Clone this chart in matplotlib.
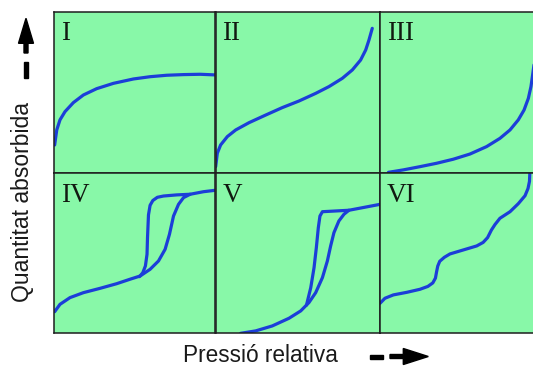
import matplotlib.pyplot as plt
from matplotlib.patches import FancyArrow, Rectangle

# -------------------------
# Curves (x, y as fraction of each panel)
# -------------------------
i_x = [0.004, 0.017, 0.037, 0.068, 0.12, 0.182, 0.264, 0.368, 0.492, 0.595, 0.698, 0.802, 0.905, 1.0]
i_y = [0.175, 0.268, 0.33, 0.381, 0.437, 0.484, 0.523, 0.556, 0.583, 0.597, 0.606, 0.61, 0.612, 0.608]

ii_x = [0.001, 0.011, 0.031, 0.072, 0.123, 0.204, 0.305, 0.406, 0.508, 0.609, 0.69, 0.771, 0.832, 0.882, 0.913, 0.933, 0.953]
ii_y = [0.041, 0.124, 0.175, 0.227, 0.268, 0.313, 0.36, 0.406, 0.447, 0.494, 0.536, 0.587, 0.639, 0.70, 0.762, 0.824, 0.896]

iii_x = [0.051, 0.141, 0.242, 0.343, 0.444, 0.545, 0.646, 0.727, 0.788, 0.838, 0.873, 0.899, 0.915, 0.925, 0.94, 0.955]
iii_y = [0.006, 0.021, 0.041, 0.062, 0.087, 0.119, 0.165, 0.216, 0.268, 0.33, 0.391, 0.463, 0.536, 0.608, 0.72, 0.85]

iv_ads_x = [0.004, 0.037, 0.099, 0.182, 0.285, 0.388, 0.471, 0.533, 0.595, 0.647, 0.688, 0.715, 0.74, 0.771, 0.802, 0.843, 0.926, 1.0]
iv_ads_y = [0.135, 0.181, 0.223, 0.254, 0.281, 0.31, 0.338, 0.358, 0.40, 0.452, 0.525, 0.619, 0.733, 0.806, 0.848, 0.869, 0.885, 0.894]
iv_des_x = [0.843, 0.76, 0.678, 0.64, 0.612, 0.595, 0.585, 0.579, 0.576, 0.566, 0.55, 0.529]
iv_des_y = [0.869, 0.865, 0.858, 0.85, 0.83, 0.8, 0.74, 0.598, 0.494, 0.421, 0.379, 0.354]

v_ads_x = [0.153, 0.244, 0.345, 0.447, 0.518, 0.568, 0.609, 0.65, 0.68, 0.70, 0.72, 0.75, 0.781, 0.811, 0.893, 1.0]
v_ads_y = [0.0, 0.015, 0.046, 0.094, 0.14, 0.192, 0.254, 0.348, 0.452, 0.546, 0.629, 0.702, 0.744, 0.769, 0.785, 0.806]
v_des_x = [0.811, 0.65, 0.635, 0.625, 0.613, 0.599, 0.579, 0.553]
v_des_y = [0.769, 0.76, 0.733, 0.66, 0.535, 0.41, 0.285, 0.176]

vi_x = [0.0, 0.03, 0.081, 0.162, 0.242, 0.29, 0.32, 0.336, 0.343, 0.35, 0.362, 0.39, 0.424, 0.505, 0.586, 0.625, 0.652, 0.675, 0.697, 0.727, 0.788, 0.838, 0.879, 0.897, 0.906, 0.908]
vi_y = [0.1875, 0.219, 0.24, 0.256, 0.275, 0.293, 0.315, 0.345, 0.385, 0.42, 0.45, 0.475, 0.496, 0.521, 0.546, 0.568, 0.598, 0.645, 0.68, 0.719, 0.76, 0.81, 0.86, 0.905, 0.95, 1.0]

labels = ["I", "II", "III", "IV", "V", "VI"]
curves = [
    [(i_x, i_y)],
    [(ii_x, ii_y)],
    [(iii_x, iii_y)],
    [(iv_ads_x, iv_ads_y), (iv_des_x, iv_des_y)],
    [(v_ads_x, v_ads_y), (v_des_x, v_des_y)],
    [(vi_x, vi_y)],
]

GREEN = "#88f8a8"
BLUE = "#1c3ed8"
EDGE = "#1e1e1e"

W, H = 533, 367
fig = plt.figure(figsize=(W / 100, H / 100), dpi=100)

# panel boxes in pixels
col_left = [54, 215.5, 380]
col_w = [161.5, 164.5, 165]
row_top = [11.5, 173.3]
row_h = [161.8, 160]

for k in range(6):
    r, c = divmod(k, 3)
    x0 = col_left[c] / W
    y0 = (H - row_top[r] - row_h[r]) / H
    ax = fig.add_axes([x0, y0, col_w[c] / W, row_h[r] / H])
    ax.set_facecolor(GREEN)
    ax.set_xlim(0, 1)
    ax.set_ylim(0, 1)
    ax.set_xticks([])
    ax.set_yticks([])
    for s in ax.spines.values():
        s.set_color(EDGE)
        s.set_linewidth(1.1)
    for xs, ys in curves[k]:
        ax.plot(xs, ys, color=BLUE, lw=2.3, solid_capstyle="round",
                solid_joinstyle="round")
    ax.annotate(labels[k], xy=(0, 1), xycoords="axes fraction",
                xytext=(7, -29), textcoords="offset pixels",
                ha="left", va="baseline", fontsize=19.5,
                family="Liberation Serif", color="#111a11")

# -------------------------
# Axis titles and arrows
# -------------------------
fig.text(23 / W, 1 - 201.5 / H, "Quantitat absorbida", rotation=90,
         ha="center", va="center", fontsize=16.5,
         family="Liberation Sans", color="#1a1a1a")
fig.text(260.5 / W, (H - 362) / H, "Pressió relativa",
         ha="center", va="baseline", fontsize=16.3,
         family="Liberation Sans", color="#1a1a1a")

def px(x, y):
    return x / 100, (H - y) / 100

tr = fig.dpi_scale_trans

# up arrow with a dash below
ax_, ay_ = px(26, 53)
fig.add_artist(FancyArrow(ax_, ay_, 0, 0.347, width=0.04, head_width=0.15,
                          head_length=0.25, length_includes_head=True,
                          color="black", transform=tr))
dx_, dy_ = px(24, 78)
fig.add_artist(Rectangle((dx_, dy_), 0.04, 0.16, color="black", transform=tr))

# right arrow with a dash before
rx_, ry_ = px(390, 356.5)
fig.add_artist(FancyArrow(rx_, ry_, 0.383, 0, width=0.04, head_width=0.16,
                          head_length=0.25, length_includes_head=True,
                          color="black", transform=tr))
qx_, qy_ = px(370, 358.5)
fig.add_artist(Rectangle((qx_, qy_), 0.133, 0.04, color="black", transform=tr))

fig.savefig("out.png", dpi=100, facecolor="white")
